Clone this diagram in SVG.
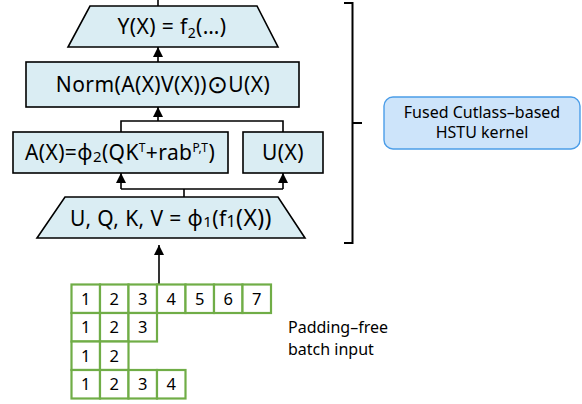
<svg xmlns="http://www.w3.org/2000/svg" width="582" height="404" viewBox="0 0 582 404">
<defs>
<marker id="ah" markerUnits="userSpaceOnUse" markerWidth="10" markerHeight="10" refX="10" refY="5" orient="auto">
<path d="M0,0 L10,5 L0,10 z" fill="#000"/>
</marker>
<style>
.node{fill:#daedf3;stroke:#000;stroke-width:1.6}
.t{font-family:"Noto Sans","Open Sans",sans-serif;font-size:21px;letter-spacing:0.4px;fill:#000;text-anchor:middle}
.c{fill:none;stroke:#000;stroke-width:1.6}
.cell{fill:#fff;stroke:#70ad47;stroke-width:2.2}
.n{font-family:"Noto Sans","Open Sans",sans-serif;font-size:16.5px;fill:#000;text-anchor:middle}
.lab{font-family:"Noto Sans","Open Sans",sans-serif;font-size:16px;fill:#000}
.fused{fill:#cde4fa;stroke:#4b9de8;stroke-width:1.4}
.ft{font-family:"Noto Sans","Open Sans",sans-serif;font-size:16px;fill:#000;text-anchor:middle}
</style>
</defs>

<g id="connectors">
<line class="c" x1="158" y1="0" x2="158" y2="6"/>
<line class="c" x1="158" y1="62" x2="158" y2="47" marker-end="url(#ah)"/>
<path class="c" d="M121,132 V121 H283 V132"/>
<line class="c" x1="158" y1="121" x2="158" y2="107" marker-end="url(#ah)"/>
<line class="c" x1="184" y1="197" x2="184" y2="189"/>
<path class="c" d="M121,189 H283"/>
<line class="c" x1="121" y1="189" x2="121" y2="173" marker-end="url(#ah)"/>
<line class="c" x1="283" y1="189" x2="283" y2="173" marker-end="url(#ah)"/>
<line class="c" x1="159" y1="284" x2="159" y2="245" marker-end="url(#ah)"/>
</g>

<g id="output">
<polygon class="node" points="90,6 257,6 278,47 68,47"/>
<text class="t" x="172" y="34">Y(X) = f<tspan font-size="14" dy="4">2</tspan><tspan dy="-4">(…)</tspan></text>
</g>

<g id="norm">
<rect class="node" x="26" y="62" width="273" height="45"/>
<text class="t" x="163" y="92">Norm(A(X)V(X))<tspan font-size="25" dy="1">⊙</tspan><tspan dy="-1">U(X)</tspan></text>
</g>

<g id="attention">
<rect class="node" x="13" y="132" width="215" height="41"/>
<text class="t" x="120" y="160">A(X)=ϕ<tspan font-size="15" dy="2">2</tspan><tspan dy="-2">(QK</tspan><tspan font-size="12" dy="-8">T</tspan><tspan dy="8">+rab</tspan><tspan font-size="12" dy="-8">P,T</tspan><tspan dy="8">)</tspan></text>
</g>

<g id="ux">
<rect class="node" x="243" y="132" width="80" height="41"/>
<text class="t" x="283" y="160">U(X)</text>
</g>

<g id="projection">
<polygon class="node" points="65,197 278,197 305,238 37,238"/>
<text class="t" x="171" y="226">U, Q, K, V = ϕ<tspan font-size="15" dy="1">1</tspan><tspan dy="-1">(f</tspan><tspan font-size="16" dy="1">1</tspan><tspan dy="-1" font-size="23">(X))</tspan></text>
</g>

<g id="kernel-brace">
<path d="M344,3 H352.5 V243 H344 M352.5,123 H362" fill="none" stroke="#000" stroke-width="2"/>
</g>

<g id="fused-kernel">
<rect class="fused" x="384" y="97" width="196" height="52" rx="9"/>
<text class="ft" x="482" y="118">Fused Cutlass–based</text>
<text class="ft" x="482" y="138">HSTU kernel</text>
</g>

<g id="batch-input">
<rect class="cell" x="71.5" y="284.5" width="28.5" height="28.5"/>
<rect class="cell" x="100" y="284.5" width="28.5" height="28.5"/>
<rect class="cell" x="128.5" y="284.5" width="28.5" height="28.5"/>
<rect class="cell" x="157" y="284.5" width="28.5" height="28.5"/>
<rect class="cell" x="185.5" y="284.5" width="28.5" height="28.5"/>
<rect class="cell" x="214" y="284.5" width="28.5" height="28.5"/>
<rect class="cell" x="242.5" y="284.5" width="28.5" height="28.5"/>
<rect class="cell" x="71.5" y="313" width="28.5" height="28.5"/>
<rect class="cell" x="100" y="313" width="28.5" height="28.5"/>
<rect class="cell" x="128.5" y="313" width="28.5" height="28.5"/>
<rect class="cell" x="71.5" y="341.5" width="28.5" height="28.5"/>
<rect class="cell" x="100" y="341.5" width="28.5" height="28.5"/>
<rect class="cell" x="71.5" y="370" width="28.5" height="28.5"/>
<rect class="cell" x="100" y="370" width="28.5" height="28.5"/>
<rect class="cell" x="128.5" y="370" width="28.5" height="28.5"/>
<rect class="cell" x="157" y="370" width="28.5" height="28.5"/>
<text class="n" x="85.75" y="304.5">1</text>
<text class="n" x="114.25" y="304.5">2</text>
<text class="n" x="142.75" y="304.5">3</text>
<text class="n" x="171.25" y="304.5">4</text>
<text class="n" x="199.75" y="304.5">5</text>
<text class="n" x="228.25" y="304.5">6</text>
<text class="n" x="256.75" y="304.5">7</text>
<text class="n" x="85.75" y="333">1</text>
<text class="n" x="114.25" y="333">2</text>
<text class="n" x="142.75" y="333">3</text>
<text class="n" x="85.75" y="361.5">1</text>
<text class="n" x="114.25" y="361.5">2</text>
<text class="n" x="85.75" y="390">1</text>
<text class="n" x="114.25" y="390">2</text>
<text class="n" x="142.75" y="390">3</text>
<text class="n" x="171.25" y="390">4</text>
<text class="lab" x="288" y="333">Padding–free</text>
<text class="lab" x="288" y="355">batch input</text>
</g>
</svg>
